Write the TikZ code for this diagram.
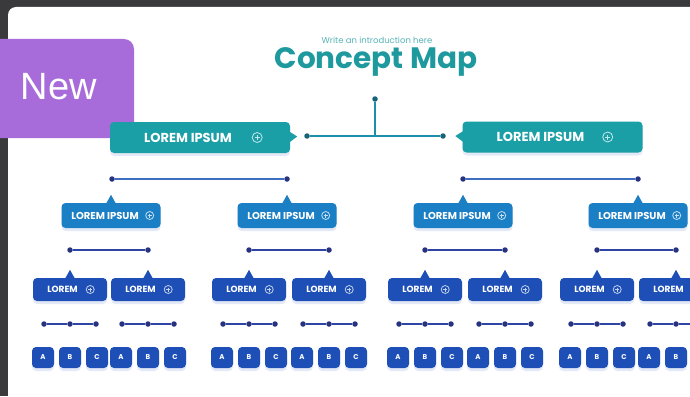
\documentclass[tikz,border=0pt]{standalone}
\usepackage{fontspec}
\setmainfont{Poppins}
\newfontfamily\badgefont{Liberation Sans}
\usetikzlibrary{calc,shadows}
\definecolor{frame}{HTML}{3A3A3C}
\definecolor{badge}{HTML}{A86CDA}
\definecolor{tealbox}{HTML}{1A9FA6}
\definecolor{tealtext}{HTML}{1E9A9E}
\definecolor{bluebox}{HTML}{1B7FC5}
\definecolor{navybox}{HTML}{1D4FB6}
\definecolor{toplink}{HTML}{1F8EAA}
\definecolor{midlink}{HTML}{3C6FC0}
\definecolor{lowlink}{HTML}{2F45A6}
\definecolor{linkdot}{HTML}{27337E}
\tikzset{
	softshadow/.style={drop shadow={shadow xshift=0pt, shadow yshift=-3pt, fill=navybox, opacity=0.12}},
	topbox/.style={fill=tealbox, rounded corners=4pt, minimum width=180pt, minimum height=31pt, inner sep=0pt, text=white, font=\bfseries\fontsize{13}{14}\selectfont, softshadow},
	midbox/.style={fill=bluebox, rounded corners=4pt, minimum width=99pt, minimum height=25pt, inner sep=0pt, text=white, font=\bfseries\fontsize{10}{11}\selectfont, softshadow},
	lowbox/.style={fill=navybox, rounded corners=4pt, minimum width=74pt, minimum height=23pt, inner sep=0pt, text=white, font=\bfseries\fontsize{9}{10}\selectfont, softshadow},
	keybox/.style={fill=navybox, rounded corners=4pt, minimum width=22pt, minimum height=21pt, inner sep=0pt, text=white, font=\bfseries\fontsize{7}{8}\selectfont, softshadow},
	linkdotnode/.style={circle, fill=linkdot, inner sep=0pt, minimum size=5.5pt},
	link/.style={line width=1.8pt}
}
\def\tabup(#1)#2{\fill[#2] ($(#1.north)+(-5,1)$) -- ($(#1.north)+(0,-8)$) -- ($(#1.north)+(5,1)$) -- cycle;}
\def\plusicon(#1:#2:#3){\draw[white, line width=0.8pt, opacity=0.75] ($(#1.east)+(#2,0)$) circle (#3pt); \draw[white, line width=0.7pt, opacity=0.75] ($(#1.east)+(#2-#3/2,0)$) -- ($(#1.east)+(#2+#3/2,0)$) ($(#1.east)+(#2,-#3/2)$) -- ($(#1.east)+(#2,#3/2)$);}

\begin{document}
\begin{tikzpicture}[x=1pt, y=-1pt]
		%%%%% START %%%%%
		\useasboundingbox (0,0) rectangle (690,396);
		\fill[frame] (0,0) rectangle (690,396);
		\fill[white, rounded corners=8pt] (8,7) rectangle (720,430);
		
		\fill[badge, rounded corners=10pt] (-20,39) rectangle (134,138);
		\node[text=white, font=\badgefont\fontsize{38}{38}\selectfont] (newtag) at (59,87) {New};
		
		\node[text=tealtext!75, font=\fontsize{8.5}{9}\selectfont] (intro) at (377,40) {Write an introduction here};
		\node[text=tealtext, font=\bfseries\fontsize{29.5}{30}\selectfont] (title) at (376,62) {Concept Map};
		
		\node[linkdotnode, fill=toplink!70!black] (root) at (375,99) {};
		\coordinate (hub) at (375,136);
		\node[linkdotnode, fill=toplink!70!black] (hubleft) at (307,136) {};
		\node[linkdotnode, fill=toplink!70!black] (hubright) at (443,136) {};
		\draw[link, color=toplink] (root) -- (hub);
		\draw[link, color=toplink] (hubleft) -- (hubright);
		
		\node[topbox] (lefttop) at (200,137.5) {LOREM IPSUM\kern24pt};
		\fill[tealbox] ($(lefttop.east)+(-1,-6)$) -- ($(lefttop.east)+(7,-1)$) -- ($(lefttop.east)+(-1,5)$) -- cycle;
		\plusicon(lefttop:-33:5)
		\node[topbox] (righttop) at (552.5,137) {LOREM IPSUM\kern24pt};
		\fill[tealbox] ($(righttop.west)+(1,-6)$) -- ($(righttop.west)+(-7,-1)$) -- ($(righttop.west)+(1,5)$) -- cycle;
		\plusicon(righttop:-35:5)
		
		\node[linkdotnode] (lefta) at (112,179) {};
		\node[linkdotnode] (leftb) at (287,179) {};
		\draw[link, color=midlink] (lefta) -- (leftb);
		\node[linkdotnode] (righta) at (463,179) {};
		\node[linkdotnode] (rightb) at (638,179) {};
		\draw[link, color=midlink] (righta) -- (rightb);
		
		\foreach \m/\p/\q in {111/70/148, 287/249/329, 463/425/505, 638/597/676} {
			\node[midbox] (mid\m) at (\m,215.5) {LOREM IPSUM\kern12pt};
			\tabup(mid\m){bluebox}
			\plusicon(mid\m:-11:4)
			\node[linkdotnode] (split\p) at (\p,250) {};
			\node[linkdotnode] (split\q) at (\q,250) {};
			\draw[link, color=lowlink] (split\p) -- (split\q);
		}
		
		\foreach \c in {70,148,249,329,425,505,597,676} {
			\node[lowbox] (low\c) at (\c,289.5) {LOREM\kern15pt};
			\tabup(low\c){navybox}
			\plusicon(low\c:-17:4)
			\node[linkdotnode] (tickA\c) at (\c-26,324) {};
			\node[linkdotnode] (tickB\c) at (\c,324) {};
			\node[linkdotnode] (tickC\c) at (\c+26,324) {};
			\draw[link, line width=1.4pt, color=lowlink] (tickA\c) -- (tickB\c) -- (tickC\c);
			\node[keybox] (keyA\c) at (\c-27,357.5) {A};
			\node[keybox] (keyB\c) at (\c,357.5) {B};
			\node[keybox] (keyC\c) at (\c+27,357.5) {C};
		}
		%%%%% END %%%%%
\end{tikzpicture}
\end{document}
